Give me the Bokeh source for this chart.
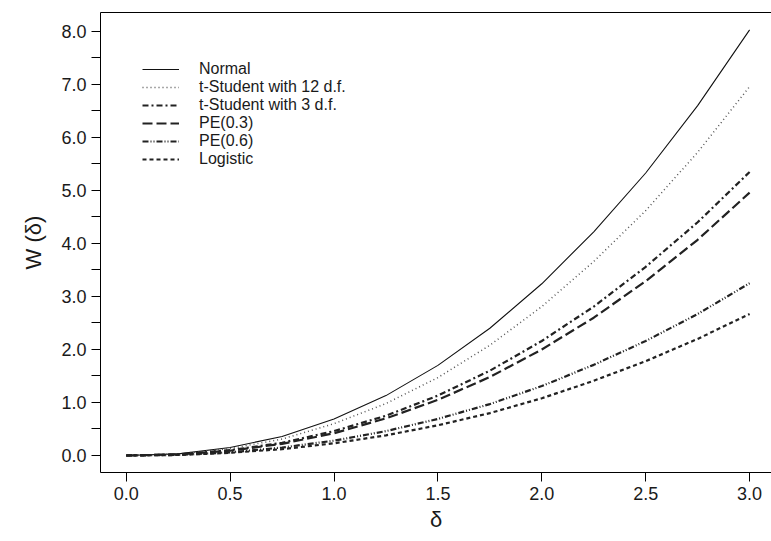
from bokeh.plotting import figure
from bokeh.models import (Range1d, FixedTicker, PrintfTickFormatter, LinearAxis,
                          Legend, LegendItem)
from bokeh.embed import file_html
from bokeh.resources import INLINE

# ---- data ----
delta = [0.0, 0.25, 0.5, 0.75, 1.0, 1.25, 1.5, 1.75, 2.0, 2.25, 2.5, 2.75, 3.0]
normal = [0.00, 0.03, 0.15, 0.36, 0.69, 1.13, 1.70, 2.40, 3.24, 4.22, 5.33, 6.60, 8.03]
t12 = [0.00, 0.03, 0.13, 0.31, 0.60, 0.98, 1.47, 2.08, 2.81, 3.66, 4.62, 5.72, 6.96]
t3 = [0.00, 0.02, 0.10, 0.24, 0.46, 0.75, 1.13, 1.60, 2.16, 2.81, 3.56, 4.40, 5.35]
pe03 = [0.00, 0.02, 0.09, 0.22, 0.42, 0.70, 1.05, 1.48, 2.00, 2.60, 3.29, 4.07, 4.96]
pe06 = [0.00, 0.01, 0.06, 0.15, 0.28, 0.46, 0.69, 0.97, 1.31, 1.71, 2.16, 2.67, 3.25]
logistic = [0.00, 0.01, 0.05, 0.12, 0.23, 0.38, 0.57, 0.80, 1.08, 1.41, 1.78, 2.20, 2.67]

series_labels = ["Normal", "t-Student with 12 d.f.", "t-Student with 3 d.f.",
                 "PE(0.3)", "PE(0.6)", "Logistic"]
x_ticks = [0.0, 0.5, 1.0, 1.5, 2.0, 2.5, 3.0]
y_ticks = [0.0, 0.5, 1.0, 1.5, 2.0, 2.5, 3.0, 3.5, 4.0, 4.5, 5.0, 5.5, 6.0, 6.5, 7.0, 7.5, 8.0]

FONT = "Liberation Sans"
TXT = "#1a1a1a"

p = figure(width=771, height=541, output_backend="svg", toolbar_location=None,
           x_range=Range1d(-0.1237, 3.1054), y_range=Range1d(-0.3208, 8.358),
           min_border_left=100, min_border_right=0, min_border_top=12, min_border_bottom=69)
p.xgrid.visible = False
p.ygrid.visible = False
p.outline_line_color = None
p.background_fill_color = "white"
p.border_fill_color = "white"

def style_axis(ax):
    ax.axis_line_color = "black"
    ax.axis_line_width = 1
    ax.major_tick_line_color = "black"
    ax.major_tick_out = 9
    ax.major_tick_in = 0
    ax.minor_tick_out = 0
    ax.minor_tick_in = 0
    ax.major_label_text_font = FONT
    ax.major_label_text_font_size = "18px"
    ax.major_label_text_color = TXT
    ax.major_label_standoff = 5
    ax.axis_label_text_font = FONT
    ax.axis_label_text_font_size = "22px"
    ax.axis_label_text_font_style = "normal"
    ax.axis_label_text_color = TXT

xa = p.xaxis[0]
style_axis(xa)
xa.ticker = FixedTicker(ticks=x_ticks, minor_ticks=[])
xa.formatter = PrintfTickFormatter(format="%.1f")
xa.axis_label = "δ"
xa.axis_label_standoff = 4

ya = p.yaxis[0]
style_axis(ya)
ya.ticker = FixedTicker(ticks=y_ticks, minor_ticks=[])
ya.formatter = PrintfTickFormatter(format="%.1f")
ya.major_label_overrides = {t: "" for t in y_ticks if t != int(t)}
ya.axis_label = "W (δ)"
ya.axis_label_standoff = 12

top = LinearAxis(ticker=FixedTicker(ticks=[], minor_ticks=[]))
top.axis_line_color = "black"
top.major_tick_out = 0
top.major_tick_in = 0
top.minor_tick_out = 0
top.major_label_text_font_size = "0px"
top.major_label_standoff = 0
p.add_layout(top, "above")

r1 = p.line(delta, normal, line_color="#111111", line_width=1.1)
r2 = p.line(delta, t12, line_color="#555555", line_width=1.5, line_dash="1 3")
r3 = p.line(delta, t3, line_color="#222222", line_width=2.2, line_dash="6 3 2 3")
r4 = p.line(delta, pe03, line_color="#222222", line_width=2.2, line_dash="10 4")
r5 = p.line(delta, pe06, line_color="#222222", line_width=2.2, line_dash="6 2 1 2 1 2")
r6 = p.line(delta, logistic, line_color="#222222", line_width=2.2, line_dash="4 3")

rends = [r1, r2, r3, r4, r5, r6]
legend = Legend(items=[LegendItem(label=l, renderers=[r]) for l, r in zip(series_labels, rends)],
                location=(42, 304), border_line_color=None, background_fill_alpha=0,
                padding=0, margin=0, spacing=0, glyph_width=37, glyph_height=18,
                label_height=18, label_standoff=20, label_text_font=FONT,
                label_text_font_size="16px", label_text_color=TXT)
p.add_layout(legend)

open("out.html", "w").write(file_html(p, INLINE))
